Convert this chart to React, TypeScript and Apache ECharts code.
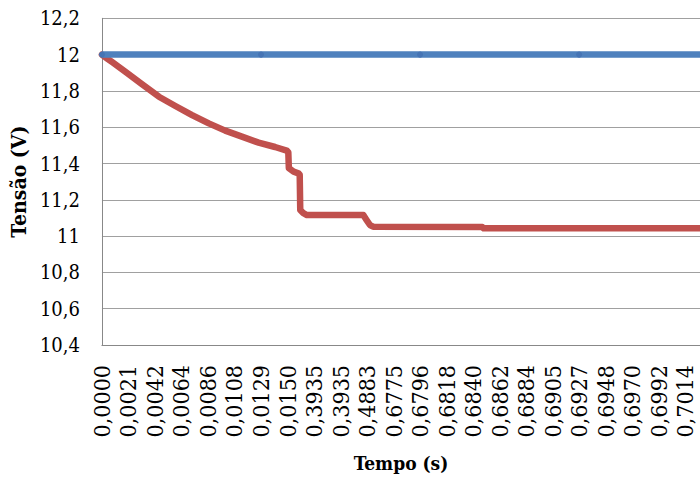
import React, { useEffect, useRef } from "react";
import * as echarts from "echarts";

// Category tick labels (sample times) shown along the x axis
const timeLabels = [
  "0,0000", "0,0021", "0,0042", "0,0064", "0,0086", "0,0108", "0,0129", "0,0150",
  "0,3935", "0,3935", "0,4883", "0,6775", "0,6796", "0,6818", "0,6840", "0,6862",
  "0,6884", "0,6905", "0,6927", "0,6948", "0,6970", "0,6992", "0,7014",
];

// Supply voltage (blue) — positions in category-index units
const blueX = [0, 6, 12, 18, 24];
const blueY = [12, 12, 12, 12, 12];

// Load voltage (red) — positions in category-index units
const redX = [
  0, 0.2, 0.39, 0.89, 1.52, 2.15, 2.77, 3.4, 4.03, 4.65, 5.28, 5.91, 6.53, 6.97, 7.03,
  7.05, 7.23, 7.41, 7.46, 7.48, 7.6, 7.73, 9.86, 9.98, 10.11, 10.23, 14.35, 14.4, 22.6,
];
const redY = [
  12.0, 11.978, 11.958, 11.905, 11.836, 11.768, 11.717, 11.667, 11.621, 11.581, 11.548, 11.515,
  11.491, 11.471, 11.462, 11.374, 11.355, 11.346, 11.338, 11.144, 11.126, 11.116, 11.116,
  11.089, 11.061, 11.052, 11.05, 11.043, 11.043,
];

const yMin = 10.4;
const yMax = 12.2;
const yStep = 0.2;

const FONT = "DejaVu Serif Condensed";

export default function App() {
  const ref = useRef<HTMLDivElement>(null);

  useEffect(() => {
    if (!ref.current) return;
    const chart = echarts.init(ref.current, undefined, { renderer: "svg" });
    chart.setOption({
      animation: false,
      backgroundColor: "#ffffff",
      textStyle: { fontFamily: FONT },
      grid: { left: 100, right: 0, top: 18.3, bottom: 135, containLabel: false },
      xAxis: {
        type: "value",
        min: 0,
        max: 22.56,
        interval: 1,
        name: "Tempo (s)",
        nameLocation: "middle",
        nameGap: 108,
        nameTextStyle: { fontFamily: FONT, fontSize: 19, fontWeight: "bold", color: "#000" },
        axisLine: { show: true, lineStyle: { color: "#888888", width: 1 } },
        axisTick: { show: false },
        splitLine: { show: false },
        axisLabel: {
          rotate: 90,
          margin: 20,
          fontFamily: FONT,
          fontSize: 23,
          color: "#000",
          showMaxLabel: false,
          formatter: (v: number) => {
            const i = Math.round(v);
            return Math.abs(v - i) < 1e-6 && timeLabels[i] !== undefined ? timeLabels[i] : "";
          },
        },
      },
      yAxis: {
        type: "value",
        min: yMin,
        max: yMax,
        interval: yStep,
        name: "Tensão (V)",
        nameLocation: "middle",
        nameGap: 66,
        nameTextStyle: { fontFamily: FONT, fontSize: 21, fontWeight: "bold", color: "#000" },
        axisLine: { show: true, lineStyle: { color: "#888888", width: 1 } },
        axisTick: { show: false },
        splitLine: { show: true, lineStyle: { color: "#a0a0a0", width: 1 } },
        axisLabel: {
          margin: 22,
          fontFamily: FONT,
          fontSize: 20,
          color: "#000",
          formatter: (v: number) => String(Math.round(v * 10) / 10).replace(".", ","),
        },
      },
      series: [
        {
          type: "line",
          data: redX.map((x, i) => [x, redY[i]]),
          showSymbol: false,
          symbol: "none",
          lineStyle: { color: "#C0504D", width: 6.5, join: "round", cap: "round" },
          z: 2,
        },
        {
          type: "line",
          data: blueX.map((x, i) => [x, blueY[i]]),
          symbol: "circle",
          symbolSize: 6,
          showSymbol: true,
          itemStyle: { color: "#4674b4" },
          lineStyle: { color: "#4F81BD", width: 6.5 },
          z: 3,
        },
      ],
    });
    return () => chart.dispose();
  }, []);

  return (
    <div
      ref={ref}
      style={{ position: "absolute", left: 0, top: 0, width: 700, height: 480 }}
    />
  );
}
